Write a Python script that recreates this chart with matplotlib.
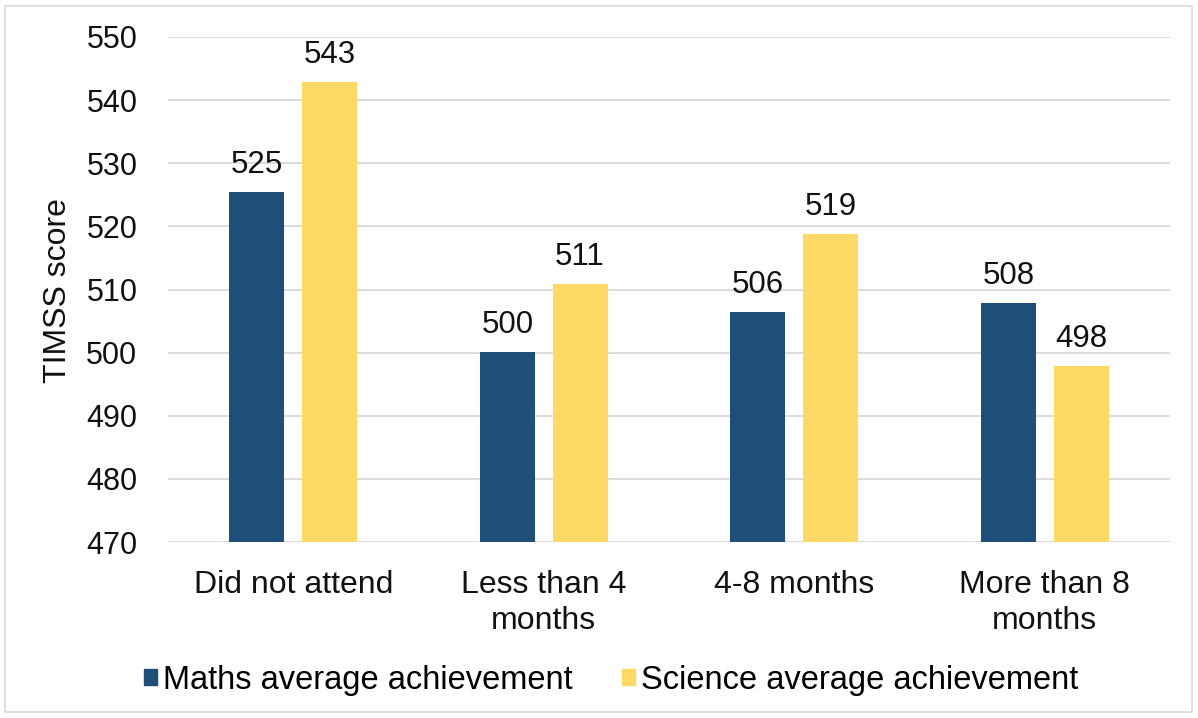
import matplotlib
matplotlib.use("Agg")
import matplotlib.pyplot as plt
import numpy as np
from matplotlib.patches import Rectangle, Patch

plt.rcParams['font.family'] = ['Liberation Sans', 'DejaVu Sans']

categories = ["Did not attend", "Less than 4\nmonths", "4-8 months", "More than 8\nmonths"]
maths = [525.4, 500.1, 506.4, 507.9]
science = [542.9, 510.9, 518.8, 497.9]
maths_labels = ["525", "500", "506", "508"]
science_labels = ["543", "511", "519", "498"]
series_names = ["Maths average achievement", "Science average achievement"]
yticks = [470, 480, 490, 500, 510, 520, 530, 540, 550]

navy = "#1F4E79"
yellow = "#FFD966"
txt = "#111111"

W, H = 1198, 718
fig = plt.figure(figsize=(W/100, H/100), dpi=100)
ax = fig.add_axes([168/W, 1-542/H, (1170-168)/W, (542-37)/H])

x = np.arange(len(categories))
bw = 0.22
off = 0.145
ax.bar(x - off, [m - 470 for m in maths], bw, bottom=470, color=navy, zorder=3)
ax.bar(x + off, [s - 470 for s in science], bw, bottom=470, color=yellow, zorder=3)

for xi, v, lab in zip(x - off, maths, maths_labels):
    ax.text(xi, v + 1.9, lab, ha='center', va='bottom', fontsize=22.5, color=txt)
for xi, v, lab in zip(x + off, science, science_labels):
    ax.text(xi, v + 1.9, lab, ha='center', va='bottom', fontsize=22.5, color=txt)

ax.set_ylim(470, 550)
ax.set_xlim(-0.5, len(categories) - 0.5)
ax.set_yticks(yticks)
ax.set_yticklabels([str(t) for t in yticks], fontsize=22, color=txt)
ax.set_xticks(x)
ax.set_xticklabels(categories, fontsize=23, color=txt, linespacing=1.27)
ax.tick_params(axis='both', length=0)
ax.tick_params(axis='y', pad=22)
ax.tick_params(axis='x', pad=20)
ax.grid(axis='y', color='#D9D9D9', linewidth=1.3, zorder=0)
for s in ax.spines.values():
    s.set_visible(False)

fig.text(58/W, 1-291/H, "TIMSS score", rotation=90, ha='center', va='center', fontsize=23, color=txt)

handles = [Patch(color=navy), Patch(color=yellow)]
fig.legend(handles, series_names, loc='center', bbox_to_anchor=(611/W, 1-680/H), ncol=2,
           frameon=False, fontsize=23.5, handlelength=0.4, handleheight=0.4, handletextpad=0.2,
           columnspacing=1.5)

fig.patches.append(Rectangle((5/W, 6/H), (1192-5)/W, (712-6)/H, transform=fig.transFigure,
                             fill=False, edgecolor='#D9D9D9', linewidth=1.2))

fig.savefig("out.png", dpi=100, facecolor='white')
